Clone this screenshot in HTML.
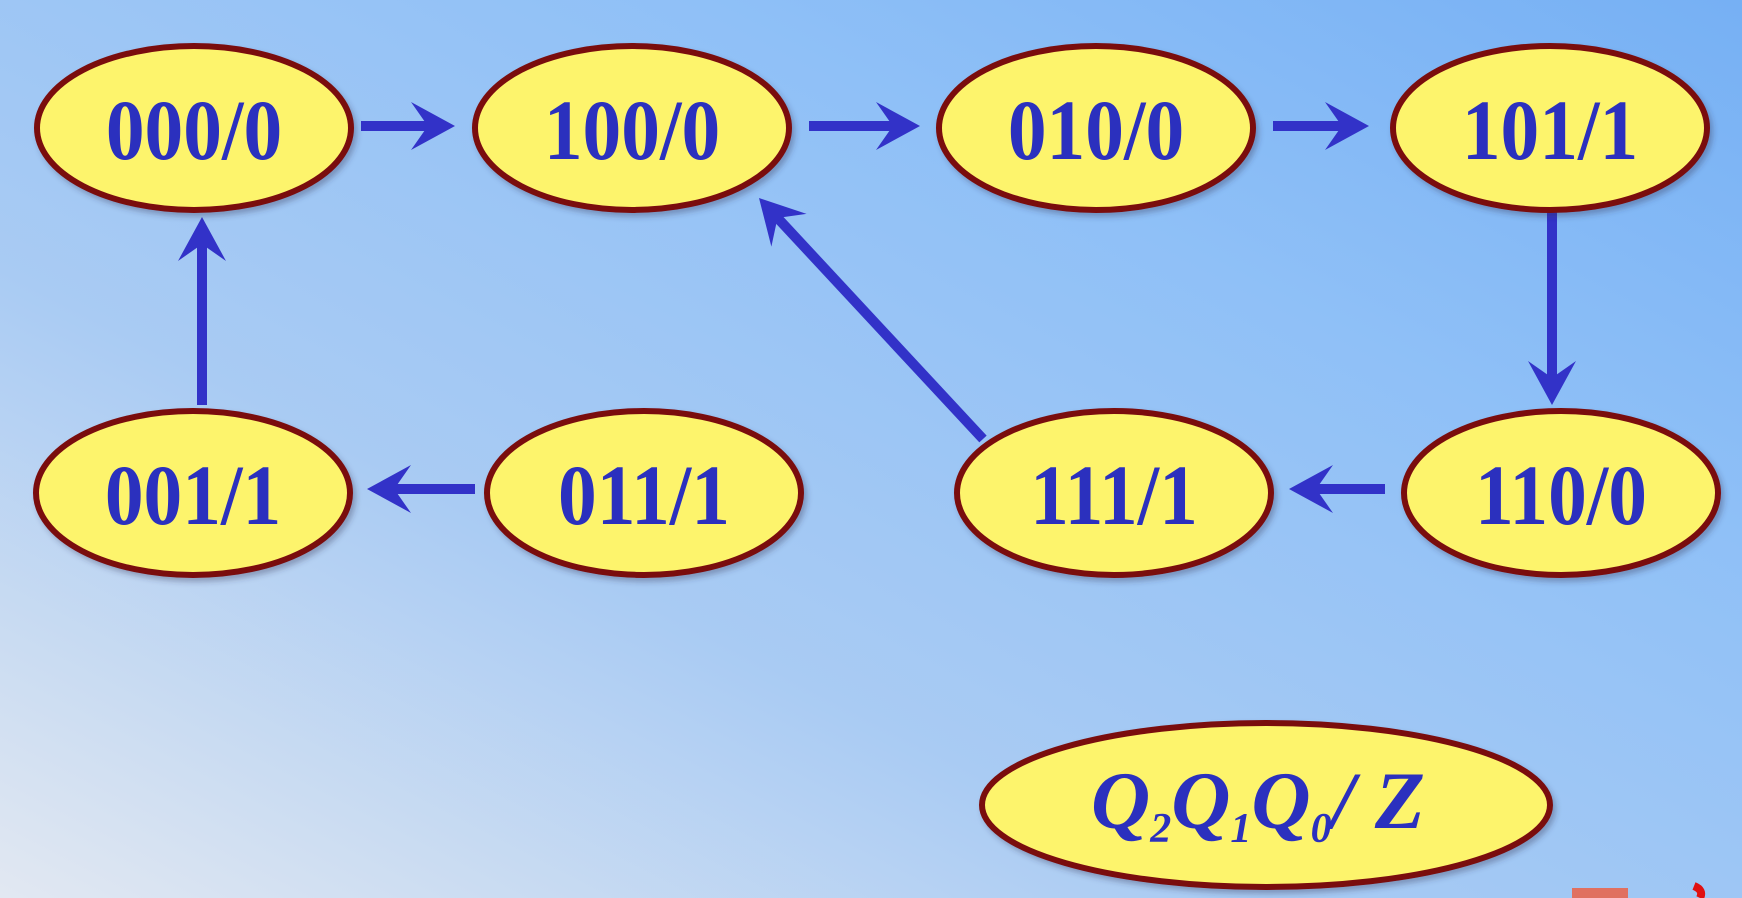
<!DOCTYPE html>
<html><head><meta charset="utf-8">
<style>
html,body{margin:0;padding:0;width:1742px;height:898px;overflow:hidden}
svg{display:block}
</style></head>
<body>
<svg id="c" width="1742" height="898" viewBox="0 0 1742 898">
<defs>
<linearGradient id="bg" x1="0" y1="1" x2="1" y2="0">
<stop offset="0" stop-color="#e2e8f2"/>
<stop offset="0.35" stop-color="#a9cbf3"/>
<stop offset="0.7" stop-color="#8fc0f7"/>
<stop offset="1" stop-color="#76b0f4"/>
</linearGradient>
<filter id="sh" x="-10%" y="-10%" width="130%" height="130%"><feDropShadow dx="3" dy="4" stdDeviation="3" flood-color="#335" flood-opacity="0.35"/></filter>
</defs>
<rect x="0" y="0" width="1742" height="898" fill="url(#bg)"/>
<rect x="1572" y="888" width="56" height="10" fill="#e07060"/>
<path d="M1694 886 q10 4 6 12" stroke="#e01010" stroke-width="8" fill="none"/>
<g id="edges"></g>
<g id="nodes"></g>
</svg>
<script>
const nodeLabels = ["000/0","100/0","010/0","101/1","001/1","011/1","111/1","110/0"];
const nodeCx = [194,632,1096,1550,193,644,1114,1561];
const nodeCy = [128,128,128,128,493,493,493,493];
const edgeFrom = [[361,126],[809,126],[1273,126],[1552,211],[1385,489],[983,439],[475,489],[202,405]];
const edgeTo = [[455,126],[920,126],[1369,126],[1552,405],[1289,489],[759,198],[367,489],[202,217]];
const NS="http://www.w3.org/2000/svg";
const eg=document.getElementById('edges'), ng=document.getElementById('nodes');
const blue="#3232c8";
for(let i=0;i<edgeFrom.length;i++){
  const [x1,y1]=edgeFrom[i],[x2,y2]=edgeTo[i];
  const dx=x2-x1,dy=y2-y1,L=Math.hypot(dx,dy),ux=dx/L,uy=dy/L,px=-uy,py=ux;
  const g=document.createElementNS(NS,'g');
  
  
  const ln=document.createElementNS(NS,'line');
  ln.setAttribute('x1',x1);ln.setAttribute('y1',y1);
  ln.setAttribute('x2',x2-ux*10);ln.setAttribute('y2',y2-uy*10);
  ln.setAttribute('stroke',blue);ln.setAttribute('stroke-width',10);
  g.appendChild(ln);
  const hl=44,hw=24,nt=30;
  const pts=[[x2,y2],[x2-ux*hl+px*hw,y2-uy*hl+py*hw],[x2-ux*nt+px*4,y2-uy*nt+py*4],[x2-ux*nt-px*4,y2-uy*nt-py*4],[x2-ux*hl-px*hw,y2-uy*hl-py*hw]];
  const pg=document.createElementNS(NS,'polygon');
  pg.setAttribute('points',pts.map(p=>p.join(',')).join(' '));
  pg.setAttribute('fill',blue);
  g.appendChild(pg);
  eg.appendChild(g);
}
function ellipse(cx,cy,rx,ry,name){
  const e=document.createElementNS(NS,'ellipse');
  e.setAttribute('cx',cx);e.setAttribute('cy',cy);e.setAttribute('rx',rx);e.setAttribute('ry',ry);
  e.setAttribute('fill','#fdf46c');e.setAttribute('stroke','#7a0c10');e.setAttribute('stroke-width',6);
  e.setAttribute('filter','url(#sh)');
  
  
  return e;
}
for(let i=0;i<nodeLabels.length;i++){
  const g=document.createElementNS(NS,'g');
  
  
  g.appendChild(ellipse(nodeCx[i],nodeCy[i],157,82,'state-ellipse'));
  const t=document.createElementNS(NS,'text');
  t.setAttribute('x',0);t.setAttribute('y',31);
  t.setAttribute('transform','translate('+nodeCx[i]+','+nodeCy[i]+') scale(0.9,1)');
  t.setAttribute('text-anchor','middle');
  t.setAttribute('font-family','"Liberation Serif", serif');
  t.setAttribute('font-weight','bold');t.setAttribute('font-size','86');
  t.setAttribute('fill','#2b30be');
  
  
  t.textContent=nodeLabels[i];
  g.appendChild(t);
  ng.appendChild(g);
}
const lg=document.createElementNS(NS,'g');


lg.appendChild(ellipse(1266,805,284,82,'legend-ellipse'));
const lt=document.createElementNS(NS,'text');
lt.setAttribute('x',1258);lt.setAttribute('y',828);
lt.setAttribute('text-anchor','middle');
lt.setAttribute('font-family','"Liberation Serif", serif');
lt.setAttribute('font-style','italic');lt.setAttribute('font-weight','bold');
lt.setAttribute('font-size','82');lt.setAttribute('fill','#2b30be');


lt.innerHTML='Q<tspan font-size="42" dy="14">2</tspan><tspan dy="-14">Q</tspan><tspan font-size="42" dy="14">1</tspan><tspan dy="-14">Q</tspan><tspan font-size="42" dy="14">0</tspan><tspan dy="-14">/ Z</tspan>';
lg.appendChild(lt);
ng.appendChild(lg);
</script>
</body></html>
